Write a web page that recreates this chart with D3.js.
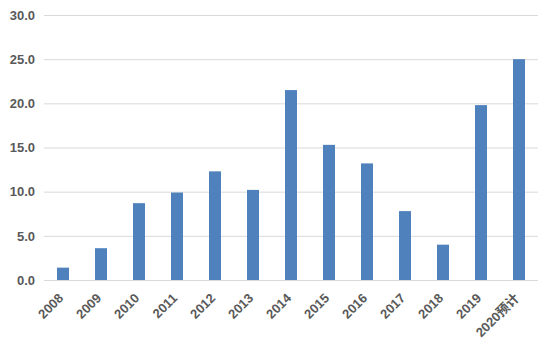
<!DOCTYPE html>
<html>
<head>
<meta charset="utf-8">
<script src="https://cdn.jsdelivr.net/npm/d3@7"></script>
<style>
  body { margin: 0; background: #fff; }
  text { font-family: "Liberation Sans", Arial, "Noto Sans CJK SC", sans-serif; font-weight: bold; fill: #595959; }
</style>
</head>
<body>
<div id="chart"></div>
<script>
// categories and values
var years = ["2008","2009","2010","2011","2012","2013","2014","2015","2016","2017","2018","2019","2020预计"];
var values = [1.4, 3.6, 8.7, 9.9, 12.3, 10.2, 21.5, 15.3, 13.2, 7.8, 4.0, 19.8, 25.0];
var yTicks = [0, 5, 10, 15, 20, 25, 30];

var svgWidth = 551;
var svgHeight = 341;
var margin = { top: 15, right: 13, bottom: 61, left: 44 };
var chartWidth = svgWidth - margin.left - margin.right;
var chartHeight = svgHeight - margin.top - margin.bottom;

var svg = d3.select("#chart").append("svg")
    .attr("width", svgWidth)
    .attr("height", svgHeight);

var chartGroup = svg.append("g")
    .attr("transform", `translate(${margin.left}, ${margin.top})`);

var xScale = d3.scaleBand()
    .domain(years)
    .range([0, chartWidth])
    .paddingInner(26 / 38)
    .paddingOuter(13 / 38);

var yScale = d3.scaleLinear()
    .domain([0, 30])
    .range([chartHeight, 0]);

// gridlines + y labels
var leftAxis = d3.axisLeft(yScale)
    .tickValues(yTicks)
    .tickFormat(d3.format(".1f"))
    .tickSize(-chartWidth)
    .tickPadding(9);

var yAxis = chartGroup.append("g").call(leftAxis);
yAxis.select(".domain").remove();
yAxis.selectAll(".tick line").attr("stroke", "#d9d9d9");
yAxis.selectAll(".tick text").style("font-size", "13px");

// bars
chartGroup.selectAll("rect.bar")
    .data(values)
    .enter()
    .append("rect")
    .attr("class", "bar")
    .attr("x", (d, i) => xScale(years[i]))
    .attr("y", d => yScale(d))
    .attr("width", xScale.bandwidth())
    .attr("height", d => chartHeight - yScale(d))
    .attr("fill", "#4f81bd");

// x labels, rotated 45 degrees
var labelX = d => xScale(d) + xScale.bandwidth() / 2 + 1;
var labelY = chartHeight + 19;
chartGroup.selectAll("text.xlabel")
    .data(years)
    .enter()
    .append("text")
    .attr("class", "xlabel")
    .attr("text-anchor", "end")
    .style("font-size", "13px")
    .attr("x", labelX)
    .attr("y", labelY)
    .attr("transform", d => "rotate(-45," + labelX(d) + "," + labelY + ")")
    .text(d => d);
</script>
</body>
</html>
